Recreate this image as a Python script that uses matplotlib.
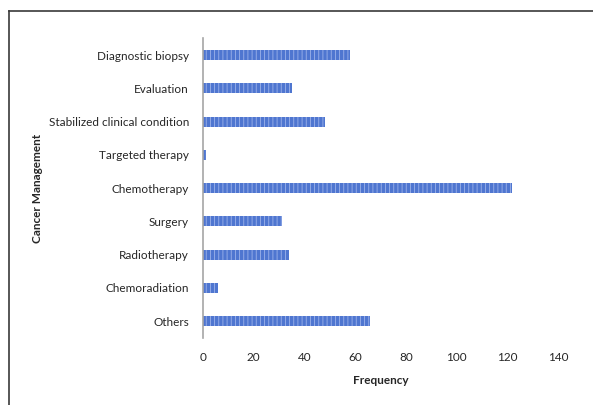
import matplotlib.pyplot as plt
from matplotlib.lines import Line2D

categories = [
    "Diagnostic biopsy",
    "Evaluation",
    "Stabilized clinical condition",
    "Targeted therapy",
    "Chemotherapy",
    "Surgery",
    "Radiotherapy",
    "Chemoradiation",
    "Others",
]
frequency = [58, 35, 48, 1, 122, 31, 34, 6, 66]
x_ticks = [0, 20, 40, 60, 80, 100, 120, 140]

plt.rcParams["font.family"] = ["Lato", "DejaVu Sans"]
plt.rcParams["hatch.color"] = "#9db3ea"
plt.rcParams["hatch.linewidth"] = 0.6

fig = plt.figure(figsize=(5.93, 4.05), dpi=100)
ax = fig.add_axes([0.3423, 0.166, 0.5987, 0.739])

pos = list(range(len(categories)))
ax.barh(pos, frequency, height=0.3, color="#4f76d0", edgecolor="#9db3ea",
        linewidth=0, hatch="||||")

ax.set_ylim(len(categories) - 0.5, -0.5)
ax.set_yticks(pos)
ax.set_yticklabels(categories, fontsize=8.5, color="#262626")
ax.set_xlim(0, 140)
ax.set_xticks(x_ticks)
ax.set_xticklabels([str(t) for t in x_ticks], fontsize=8.5, color="#262626")
ax.tick_params(axis="both", length=0)
ax.tick_params(axis="x", pad=10)
ax.tick_params(axis="y", pad=10)

for side in ("top", "right", "bottom"):
    ax.spines[side].set_visible(False)
ax.spines["left"].set_color("#a6a6a6")
ax.spines["left"].set_linewidth(1.2)

ax.set_xlabel("Frequency", fontsize=8.5, fontweight="bold", color="#262626", labelpad=9)
ax.set_ylabel("Cancer Management", fontsize=8.5, fontweight="bold", color="#262626")
ax.yaxis.set_label_coords(-0.452, 0.5)

# frame lines along the top and left edge of the figure
fig.add_artist(Line2D([8.5 / 593, 1.0], [1 - 11 / 405] * 2, transform=fig.transFigure,
                      color="#3a3a3a", linewidth=1.2))
fig.add_artist(Line2D([8.5 / 593] * 2, [0.0, 1 - 11 / 405], transform=fig.transFigure,
                      color="#3a3a3a", linewidth=1.2))

fig.savefig("out.png", dpi=100)
